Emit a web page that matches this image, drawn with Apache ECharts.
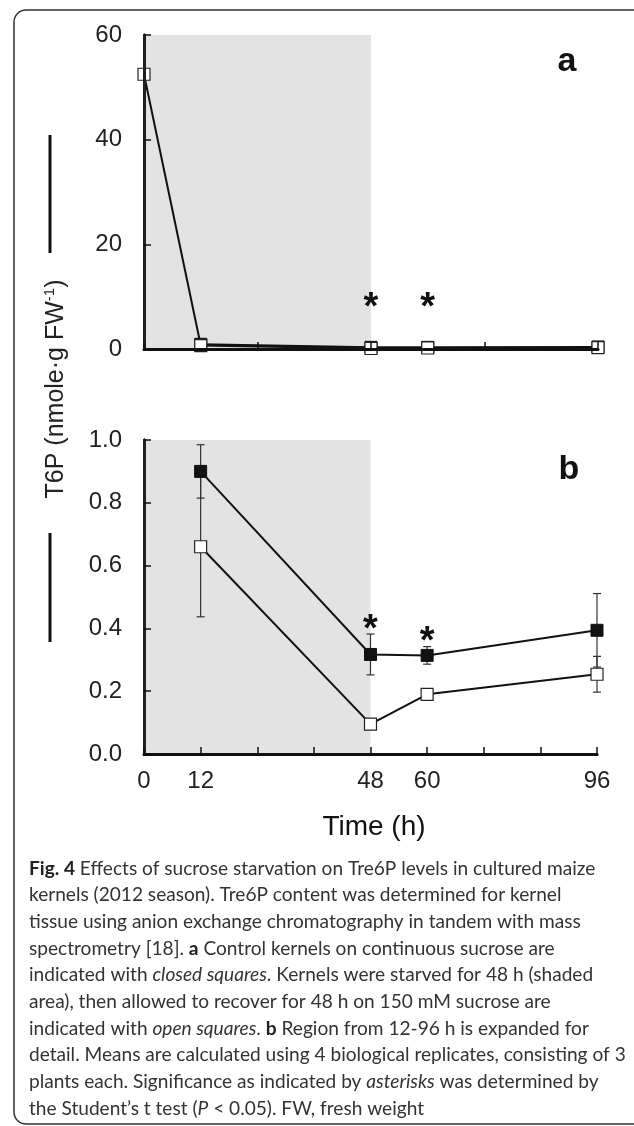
<!DOCTYPE html>
<html><head><meta charset="utf-8">
<script src="https://cdn.jsdelivr.net/npm/echarts@6/dist/echarts.min.js"></script>
<style>html,body{margin:0;padding:0;background:#fff}#c{width:634px;height:1126px}</style>
</head><body><div id="c"></div>
<script>
// ---- data ----
const openTimes = [0, 12, 48, 60, 96];
const openMeans = [52.5, 0.66, 0.095, 0.19, 0.254];
const openErr = [0, 0.223, 0.01, 0.01, 0.057];
const closedTimes = [12, 48, 60, 96];
const closedMeans = [0.90, 0.317, 0.314, 0.394];
const closedErr = [0.085, 0.065, 0.028, 0.117];
const starTimes = [48, 60];
const starValA = [9, 9];
const starValB = [0.415, 0.378];
const xTickLabels = [0, 12, 48, 60, 96];
const shadeStart = 0, shadeEnd = 48;
const captionLines = [
  '{b|Fig. 4} Effects of sucrose starvation on Tre6P levels in cultured maize',
  'kernels (2012 season). Tre6P content was determined for kernel',
  'tissue using anion exchange chromatography in tandem with mass',
  'spectrometry [18]. {b|a} Control kernels on continuous sucrose are',
  'indicated with {i|closed squares}. Kernels were starved for 48 h (shaded',
  'area), then allowed to recover for 48 h on 150 mM sucrose are',
  'indicated with {i|open squares}. {b|b} Region from 12-96 h is expanded for',
  'detail. Means are calculated using 4 biological replicates, consisting of 3',
  'plants each. Significance as indicated by {i|asterisks} was determined by',
  'the Student\u2019s t test ({i|P} < 0.05). FW, fresh weight'
];

const FONT = 'Liberation Sans, Arial, sans-serif';
const CAP = 19.1;
const chart = echarts.init(document.getElementById('c'));

const pairs = (ts, vs) => ts.map((t, i) => [t, vs[i]]);

function xAx(gi, interval, showLabels) {
  return {
    type: 'value', gridIndex: gi, min: 0, max: 96, interval: interval, z: 10,
    axisLine: {show: true, onZero: false, lineStyle: {color: '#111', width: 3}},
    axisTick: {show: true, inside: true, length: 7, lineStyle: {color: '#111', width: 1.5}},
    axisLabel: {show: showLabels, margin: 15, color: '#222', fontSize: 24, fontFamily: FONT,
      formatter: v => xTickLabels.includes(v) ? String(v) : ''},
    splitLine: {show: false}
  };
}
function xTop(gi) {
  return {type: 'value', gridIndex: gi, position: 'top', min: 0, max: 96, z: 10,
    axisLine: {show: true, lineStyle: {color: '#111', width: 2.5}},
    axisTick: {show: false}, axisLabel: {show: false}, splitLine: {show: false}};
}
function yAx(gi, min, max, interval, fmt) {
  return {
    type: 'value', gridIndex: gi, min: min, max: max, interval: interval, z: 10,
    axisLine: {show: true, onZero: false, lineStyle: {color: '#111', width: 3}},
    axisTick: {show: true, inside: true, length: 7, lineStyle: {color: '#111', width: 1.5}},
    axisLabel: {margin: 22, color: '#222', fontSize: 24, fontFamily: FONT, formatter: fmt},
    splitLine: {show: false}
  };
}
function yRight(gi, min, max, w) {
  return {type: 'value', gridIndex: gi, position: 'right', min: min, max: max, z: 10,
    axisLine: {show: true, lineStyle: {color: '#222', width: w}},
    axisTick: {show: false}, axisLabel: {show: false}, splitLine: {show: false}};
}

function shade(xi, yi) {
  return {type: 'line', xAxisIndex: xi, yAxisIndex: yi, data: [], z: 1, silent: true,
    markArea: {silent: true, itemStyle: {color: '#e3e3e3'},
      data: [[{xAxis: shadeStart}, {xAxis: shadeEnd}]]}};
}
function lineSeries(xi, yi, data, filled, z) {
  return {type: 'line', xAxisIndex: xi, yAxisIndex: yi, data: data, z: z,
    symbol: 'rect', symbolSize: 12, showSymbol: true, animation: false,
    lineStyle: {color: '#111', width: 2},
    itemStyle: filled ? {color: '#111', borderColor: '#111', borderWidth: 1}
                      : {color: '#fff', borderColor: '#222', borderWidth: 1.2}};
}
function errSeries(xi, yi, times, means, errs) {
  return {type: 'custom', xAxisIndex: xi, yAxisIndex: yi, z: 3, animation: false,
    data: times.map((t, i) => [t, means[i], errs[i]]),
    renderItem(params, api) {
      const x = api.value(0), m = api.value(1), e = api.value(2);
      const t = api.coord([x, m + e]), b = api.coord([x, m - e]);
      const hw = 4, st = {stroke: '#333', lineWidth: 1.2};
      return {type: 'group', children: [
        {type: 'line', shape: {x1: t[0], y1: t[1], x2: b[0], y2: b[1]}, style: st},
        {type: 'line', shape: {x1: t[0] - hw, y1: t[1], x2: t[0] + hw, y2: t[1]}, style: st},
        {type: 'line', shape: {x1: b[0] - hw, y1: b[1], x2: b[0] + hw, y2: b[1]}, style: st}
      ]};
    }};
}
function starSeries(xi, yi, times, vals) {
  return {type: 'custom', xAxisIndex: xi, yAxisIndex: yi, z: 6, animation: false,
    data: pairs(times, vals),
    renderItem(params, api) {
      const p = api.coord([api.value(0), api.value(1)]);
      return {type: 'text', x: p[0], y: p[1] + 7,
        style: {text: '*', font: 'bold 38px ' + FONT, fill: '#111', align: 'center', verticalAlign: 'middle'}};
    }};
}

const openTb = openTimes.filter(t => t >= 12);
const cut = openTimes.length - openTb.length;
const openMb = openMeans.slice(cut);
const openEb = openErr.slice(cut);

chart.setOption({
  animation: false,
  backgroundColor: '#fff',
  grid: [
    {left: 144, top: 35, width: 454, height: 314},
    {left: 144, top: 440, width: 453, height: 314}
  ],
  xAxis: [xAx(0, 24, false), xTop(0), xAx(1, 12, true), xTop(1)],
  yAxis: [yAx(0, 0, 60, 20, v => String(v)), yRight(0, 0, 60, 2.5),
          yAx(1, 0, 1, 0.2, v => v.toFixed(1)), yRight(1, 0, 1, 3)],
  series: [
    shade(0, 0),
    lineSeries(0, 0, pairs(closedTimes, closedMeans), true, 4),
    lineSeries(0, 0, pairs(openTimes, openMeans), false, 5),
    starSeries(0, 0, starTimes, starValA),
    shade(2, 2),
    errSeries(2, 2, closedTimes, closedMeans, closedErr),
    errSeries(2, 2, openTb, openMb, openEb),
    lineSeries(2, 2, pairs(closedTimes, closedMeans), true, 4),
    lineSeries(2, 2, pairs(openTb, openMb), false, 5),
    starSeries(2, 2, starTimes, starValB)
  ],
  graphic: [
    {type: 'rect', shape: {x: 14, y: 10, width: 660, height: 1114, r: 12}, silent: true,
      style: {fill: 'none', stroke: '#333', lineWidth: 1.5}, z: -1},
    {type: 'text', x: 567, y: 62, style: {text: 'a', font: 'bold 34px ' + FONT, fill: '#111', align: 'center', verticalAlign: 'middle'}},
    {type: 'text', x: 569, y: 470, style: {text: 'b', font: 'bold 34px ' + FONT, fill: '#111', align: 'center', verticalAlign: 'middle'}},
    {type: 'line', shape: {x1: 50, y1: 135, x2: 50, y2: 253}, style: {stroke: '#111', lineWidth: 3}},
    {type: 'line', shape: {x1: 50, y1: 533, x2: 50, y2: 642}, style: {stroke: '#111', lineWidth: 3}},
    {type: 'text', x: 56, y: 389, rotation: Math.PI / 2,
      style: {text: '{n|T6P (nmole\u00b7g FW}{s|-1}{n|)}', align: 'center', verticalAlign: 'middle',
        rich: {n: {fontSize: 25, fontFamily: FONT, fill: '#222', color: '#222'},
               s: {fontSize: 15, fontFamily: FONT, fill: '#222', color: '#222', padding: [0, 0, 12, 0]}}}},
    {type: 'text', x: 374, y: 827, style: {text: 'Time (h)', font: '28px ' + FONT, fill: '#111', align: 'center', verticalAlign: 'middle'}},
    {type: 'text', x: 29, y: 855,
      style: {text: captionLines.join('\n'), fontSize: CAP, fontFamily: 'Lato', fill: '#333', lineHeight: 26.7,
        align: 'left', verticalAlign: 'top',
        rich: {b: {fontWeight: 'bold', fontSize: CAP, fontFamily: 'Lato', fill: '#222', lineHeight: 26.7},
               i: {fontStyle: 'italic', fontSize: CAP, fontFamily: 'Lato', fill: '#333', lineHeight: 26.7}}}}
  ]
});
</script></body></html>
